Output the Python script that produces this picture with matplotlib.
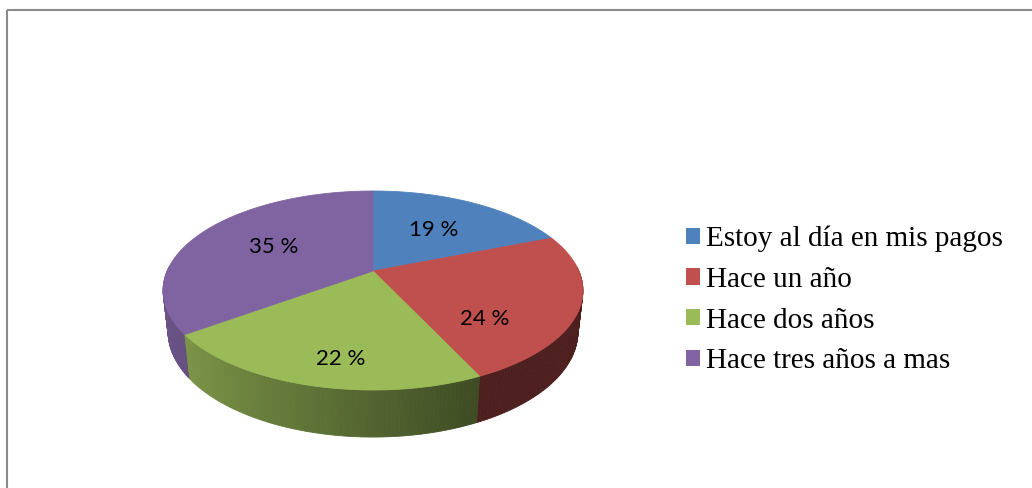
import numpy as np
import matplotlib
matplotlib.use("Agg")
from matplotlib import pyplot as plt
from matplotlib.patches import Polygon, Patch
from matplotlib.colors import to_rgb

# Chart data
categories = ["Estoy al día en mis pagos", "Hace un año", "Hace dos años", "Hace tres años a mas"]
values = [19, 24, 22, 35]
colors = ["#4F81BD", "#C0504D", "#9BBB59", "#8064A2"]

# 3D pie camera (screen pixels)
CX, CY = 373, 271      # projected pie centre
F, D = 930.0, 4.518    # focal length, camera distance
PHI = np.radians(27.7) # tilt
H = 0.229              # slab thickness (radius = 1)
cphi, sphi = np.cos(PHI), np.sin(PHI)


def project(x, y, z):
    d = D + z * cphi - y * sphi
    yc = y * cphi + z * sphi
    return CX + F * x / d, CY - F * yc / d


def shade(t):
    return max(0.4, 0.534 - 0.317 * np.cos(t))


fig = plt.figure(figsize=(10.32, 4.88), dpi=100)
ax = fig.add_axes([0, 0, 1, 1])
ax.set_xlim(0, 1032)
ax.set_ylim(488, 0)
ax.axis("off")

# slice angles: start at 12 o'clock, clockwise
total = float(sum(values))
cum = np.concatenate([[0], np.cumsum(values)]) / total
t0s = np.pi / 2 - 2 * np.pi * cum[:-1]
t1s = np.pi / 2 - 2 * np.pi * cum[1:]

# outer wall, drawn far to near
quads = []
for i in range(len(values)):
    n = max(2, int(abs(t1s[i] - t0s[i]) / np.radians(1.0)))
    ts = np.linspace(t0s[i], t1s[i], n + 1)
    for a, b in zip(ts[:-1], ts[1:]):
        m = 0.5 * (a + b)
        if np.sin(m) > 0.05:
            continue
        pts = [project(np.cos(a), 0, np.sin(a)), project(np.cos(b), 0, np.sin(b)),
               project(np.cos(b), -H, np.sin(b)), project(np.cos(a), -H, np.sin(a))]
        depth = D + np.sin(m) * cphi
        c = np.array(to_rgb(colors[i])) * shade(m)
        quads.append((depth, pts, c))

for depth, pts, c in sorted(quads, key=lambda q: -q[0]):
    ax.add_patch(Polygon(pts, closed=True, facecolor=c, edgecolor=c, lw=0.6))

# top faces
for i in range(len(values)):
    ts = np.linspace(t0s[i], t1s[i], 200)
    pts = [project(0, 0, 0)] + [project(np.cos(t), 0, np.sin(t)) for t in ts]
    ax.add_patch(Polygon(pts, closed=True, facecolor=colors[i], edgecolor=colors[i], lw=0.6))

# data labels (front slices are centred on top + visible wall)
for i, v in enumerate(values):
    m = 0.5 * (t0s[i] + t1s[i])
    yl = 0 if np.sin(m) >= 0 else -H * 0.65
    lx, ly = project(0.57 * np.cos(m), yl, 0.57 * np.sin(m))
    ax.text(lx, ly, f"{v} %", ha="center", va="center", fontsize=16,
            family=["Lato", "DejaVu Sans"], color="black")

# legend
handles = [Patch(facecolor=c, edgecolor="none") for c in colors]
ax.legend(handles, categories, loc="center left", bbox_to_anchor=(686 / 1032, 1 - 300 / 488),
          frameon=False, borderpad=0, borderaxespad=0, handlelength=0.48, handleheight=0.48,
          handletextpad=0.22, labelspacing=0.5,
          prop={"family": "Liberation Serif", "size": 21})

# chart border (only top and left edges are inside the crop)
ax.plot([6.5, 1032], [9.5, 9.5], color="#8a8a8a", lw=1.5, solid_capstyle="butt")
ax.plot([6.5, 6.5], [9.5, 488], color="#8a8a8a", lw=1.5, solid_capstyle="butt")

fig.savefig("out.png", dpi=100)
